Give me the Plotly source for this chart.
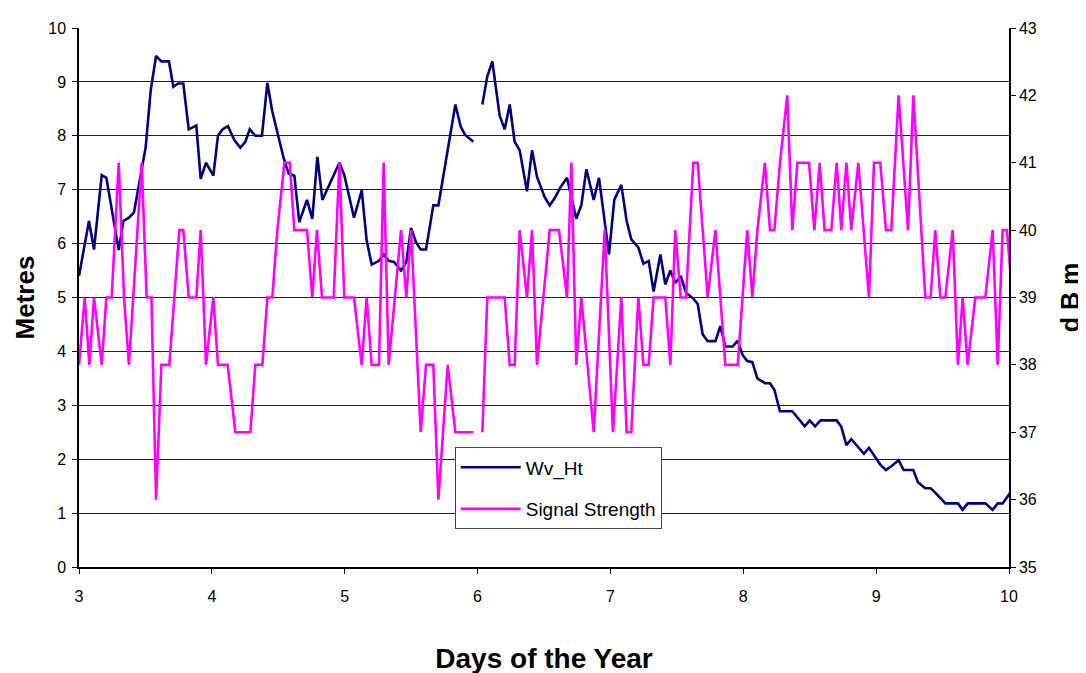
import plotly.graph_objects as go

# ---- Data ----
wv_days = [3.000, 3.075, 3.113, 3.171, 3.206, 3.299, 3.334, 3.376, 3.414, 3.502, 3.540, 3.580,
           3.620, 3.677, 3.710, 3.745, 3.785, 3.826, 3.883, 3.916, 3.956, 4.011,
           4.046, 4.081, 4.121, 4.169, 4.214, 4.252, 4.285, 4.327, 4.377, 4.418, 4.455, 4.495,
           4.541, 4.578, 4.621, 4.658, 4.716, 4.756, 4.794, 4.832, 4.869, 4.917, 4.960, 4.997,
           5.070, 5.128, 5.165, 5.203, 5.258, 5.293, 5.331, 5.371, 5.424, 5.464, 5.499, 5.537,
           5.572, 5.612, 5.667, 5.705, 5.775, 5.833, 5.873, 5.905, 5.968, 6.000,
           6.036, 6.073, 6.111, 6.166, 6.204, 6.242, 6.279, 6.317, 6.372, 6.410, 6.447, 6.505,
           6.543, 6.580, 6.623, 6.673, 6.743, 6.781, 6.819, 6.874, 6.914, 6.989,
           7.029, 7.082, 7.122, 7.157, 7.210, 7.248, 7.288, 7.325, 7.376, 7.413, 7.451, 7.488,
           7.529, 7.569, 7.624, 7.657, 7.694, 7.732, 7.790, 7.827, 7.865, 7.920, 7.958, 7.995,
           8.030, 8.068, 8.106, 8.163, 8.201, 8.234, 8.276, 8.369, 8.462, 8.500, 8.540, 8.582,
           8.703, 8.738, 8.776, 8.813, 8.908, 8.946,
           9.031, 9.074, 9.114, 9.169, 9.207, 9.280, 9.315, 9.370, 9.410, 9.445, 9.521, 9.616,
           9.651, 9.689, 9.822, 9.877, 9.915, 9.952, 10.030]
wv_ht = [5.40, 6.42, 5.89, 7.27, 7.22, 5.88, 6.42, 6.48, 6.58, 7.79, 8.85, 9.48,
         9.38, 9.38, 8.91, 8.97, 8.97, 8.12, 8.19, 7.20, 7.50, 7.26,
         8.00, 8.12, 8.18, 7.92, 7.78, 7.89, 8.12, 8.00, 8.00, 8.98, 8.45, 8.02,
         7.58, 7.30, 7.26, 6.40, 6.81, 6.46, 7.61, 6.81, 7.01, 7.24, 7.50, 7.27,
         6.48, 6.99, 6.06, 5.61, 5.68, 5.80, 5.68, 5.66, 5.50, 5.66, 6.29, 6.02,
         5.89, 5.89, 6.71, 6.71, 7.69, 8.58, 8.17, 8.02, 7.89, None,
         8.58, 9.10, 9.38, 8.38, 8.12, 8.58, 7.89, 7.73, 6.97, 7.73, 7.24, 6.86,
         6.71, 6.84, 7.04, 7.22, 6.46, 6.71, 7.38, 6.81, 7.22, 5.80,
         6.81, 7.09, 6.42, 6.08, 5.93, 5.63, 5.68, 5.11, 5.80, 5.24, 5.50, 5.27,
         5.40, 5.09, 4.98, 4.88, 4.32, 4.19, 4.19, 4.47, 4.09, 4.09, 4.20, 3.93,
         3.82, 3.80, 3.50, 3.41, 3.41, 3.29, 2.89, 2.89, 2.61, 2.72, 2.61, 2.72,
         2.72, 2.60, 2.26, 2.37, 2.10, 2.21,
         1.90, 1.80, 1.87, 1.98, 1.80, 1.80, 1.57, 1.46, 1.46, 1.38, 1.18, 1.18,
         1.06, 1.18, 1.18, 1.06, 1.18, 1.18, 1.45]

sig_days = [3.000, 3.043, 3.078, 3.113, 3.171, 3.206, 3.246, 3.299, 3.339, 3.376, 3.472, 3.509,
            3.545, 3.580, 3.620, 3.680, 3.755, 3.785, 3.826, 3.883, 3.916, 3.956, 4.011,
            4.046, 4.119, 4.177, 4.290, 4.327, 4.380, 4.418, 4.455, 4.493, 4.546, 4.586, 4.621,
            4.716, 4.756, 4.791, 4.829, 4.917, 4.960, 4.997,
            5.070, 5.128, 5.165, 5.203, 5.258, 5.293, 5.331, 5.424, 5.464, 5.499, 5.572, 5.612,
            5.667, 5.705, 5.775, 5.833, 5.968, 6.000,
            6.036, 6.073, 6.204, 6.242, 6.279, 6.317, 6.372, 6.410, 6.447, 6.543, 6.613, 6.673,
            6.706, 6.743, 6.781, 6.874, 6.957, 7.019,
            7.082, 7.122, 7.157, 7.210, 7.248, 7.288, 7.325, 7.413, 7.451, 7.488, 7.529, 7.569,
            7.624, 7.657, 7.732, 7.790, 7.865, 7.958,
            8.030, 8.068, 8.106, 8.163, 8.201, 8.234, 8.276, 8.331, 8.369, 8.407, 8.495, 8.535,
            8.575, 8.612, 8.663, 8.703, 8.738, 8.776, 8.813, 8.866, 8.946, 8.984,
            9.031, 9.074, 9.114, 9.169, 9.240, 9.280, 9.370, 9.410, 9.445, 9.483, 9.521, 9.576,
            9.616, 9.651, 9.689, 9.746, 9.822, 9.877, 9.915, 9.952, 9.985, 10.025]
signal = [38, 39, 38, 39, 38, 39, 39, 41, 39, 38, 41, 39,
          39, 36, 38, 38, 40, 40, 39, 39, 40, 38, 39,
          38, 38, 37, 37, 38, 38, 39, 39, 40, 41, 41, 40,
          40, 39, 40, 39, 39, 41, 39,
          39, 38, 39, 38, 38, 41, 38, 40, 39, 40, 37, 38,
          38, 36, 38, 37, 37, None,
          37, 39, 39, 38, 38, 40, 39, 40, 38, 40, 40, 39,
          41, 38, 39, 37, 40, 37,
          39, 37, 37, 39, 38, 38, 39, 39, 38, 40, 39, 39,
          41, 41, 39, 40, 38, 38,
          40, 39, 40, 41, 40, 40, 41, 42, 40, 41, 41, 40,
          41, 40, 40, 41, 40, 41, 40, 41, 39, 41,
          41, 40, 40, 42, 40, 42, 39, 39, 40, 39, 39, 40,
          38, 39, 38, 39, 39, 40, 38, 40, 40, 39]

x_ticks = [3, 4, 5, 6, 7, 8, 9, 10]

FONT = "Liberation Sans, Arial, sans-serif"

fig = go.Figure()
fig.add_trace(go.Scatter(x=wv_days, y=wv_ht, name="Wv_Ht", mode="lines", legendgroup="a",
                         line=dict(color="#000080", width=2.6), connectgaps=False))
fig.add_trace(go.Scatter(x=sig_days, y=signal, name="Signal Strength", mode="lines",
                         legendgroup="b",
                         line=dict(color="#FF00FF", width=2.6), connectgaps=False,
                         yaxis="y2"))

fig.update_layout(
    width=1086, height=673,
    margin=dict(l=71, r=85, t=15, b=114),
    paper_bgcolor="white", plot_bgcolor="white",
    font=dict(family=FONT, color="black", size=16),
    showlegend=True,
    legend=dict(x=0.404, y=0.222, xanchor="left", yanchor="top",
                bgcolor="white", bordercolor="#444444", borderwidth=1,
                font=dict(size=19, family=FONT), itemwidth=60,
                traceorder="grouped", tracegroupgap=14),
    xaxis=dict(range=[3, 10], tickvals=x_ticks, showgrid=False,
               showline=True, linecolor="black", linewidth=1.5,
               ticks="outside", ticklen=5, tickcolor="black",
               tickfont=dict(size=16), ticklabelstandoff=9,
               title=dict(text="<b>Days of the Year</b>", font=dict(size=28), standoff=44),
               zeroline=False),
    yaxis=dict(range=[0, 10], dtick=1, showgrid=True, gridcolor="#222222", gridwidth=1,
               showline=True, linecolor="black", linewidth=1.5,
               ticks="outside", ticklen=5, tickcolor="black",
               tickfont=dict(size=16), ticklabelstandoff=3,
               title=dict(text="<b>Metres</b>", font=dict(size=26), standoff=6),
               zeroline=False),
    yaxis2=dict(range=[35, 43], dtick=1, overlaying="y", side="right", showgrid=False,
                showline=True, linecolor="black", linewidth=1.5,
                ticks="outside", ticklen=5, tickcolor="black",
                tickfont=dict(size=16),
                title=dict(text="<b>d B m</b>", font=dict(size=25), standoff=26),
                zeroline=False),
)

fig.write_html("out.html")
